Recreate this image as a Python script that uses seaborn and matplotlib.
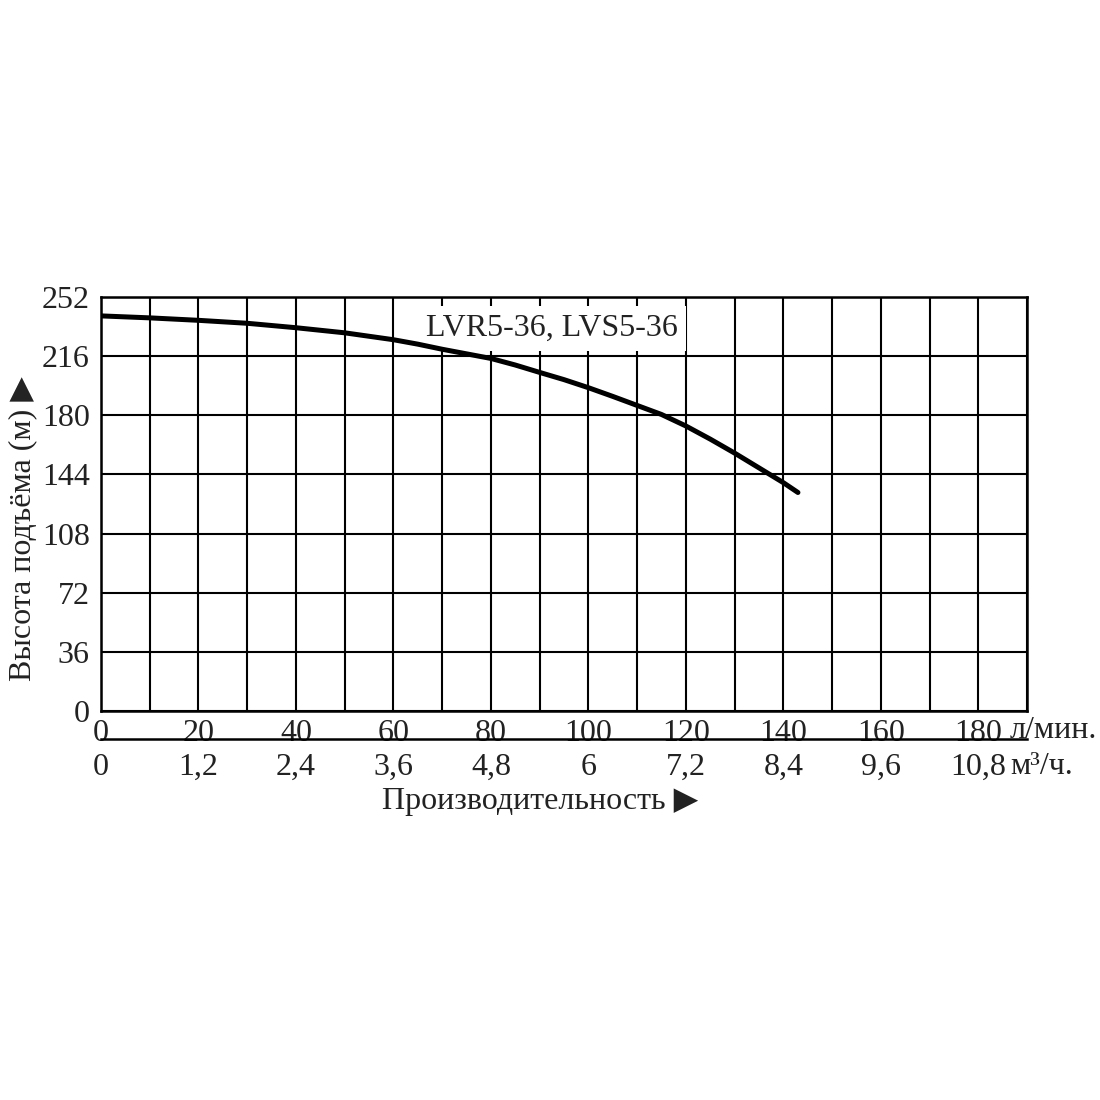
import numpy as np
import pandas as pd
import matplotlib
matplotlib.use("Agg")
import matplotlib.pyplot as plt
import seaborn as sns


# =========================================
# DATA
# =========================================

flow_lpm = [0, 10, 20, 30, 40, 50, 60, 65, 70, 75, 80, 85, 90, 95, 100,
            105, 110, 115, 120, 125, 130, 135, 140, 143]
head_m = [240.5, 239.3, 237.8, 236.0, 233.3, 230.2, 226.0, 223.3, 220.2, 217.4,
          214.6, 210.6, 206.1, 201.7, 196.8, 191.5, 186.0, 180.5, 173.5, 165.5,
          157.0, 148.0, 139.0, 133.0]

curve_label = "LVR5-36, LVS5-36"

y_ticks = [0, 36, 72, 108, 144, 180, 216, 252]
lpm_ticks = [0, 20, 40, 60, 80, 100, 120, 140, 160, 180]
m3h_labels = ["0", "1,2", "2,4", "3,6", "4,8", "6", "7,2", "8,4", "9,6", "10,8"]

df = pd.DataFrame({"flow": flow_lpm, "head": head_m})


# =========================================
# STYLE
# =========================================

sns.set_style("white")
plt.rcParams["font.family"] = ["Liberation Serif", "DejaVu Sans"]

FS = 23
TXT = "#222222"

fig = plt.figure(figsize=(11, 11), dpi=100)

left, right = 101 / 1100, 1027 / 1100
bottom, top = 1 - 711 / 1100, 1 - 297 / 1100
ax = fig.add_axes([left, bottom, right - left, top - bottom])


# =========================================
# CURVE
# =========================================

sns.lineplot(data=df, x="flow", y="head", ax=ax, color="black",
             linewidth=3.6, zorder=4)

ax.set_xlim(0, 190)
ax.set_ylim(0, 252)

ax.set_xticks(np.arange(0, 191, 10), minor=True)
ax.set_xticks(lpm_ticks)
ax.set_xticklabels([str(v) for v in lpm_ticks])
ax.set_yticks(y_ticks)
ax.set_yticklabels([str(v) for v in y_ticks])

ax.grid(True, which="both", color="black", linewidth=1.5)
ax.set_axisbelow(True)
for sp in ax.spines.values():
    sp.set_color("black")
    sp.set_linewidth(1.8)

ax.tick_params(axis="both", which="both", length=0, labelsize=FS,
               labelcolor=TXT)
ax.tick_params(axis="x", pad=6)
ax.tick_params(axis="y", pad=8)
ax.set_xlabel("")
ax.set_ylabel("Высота подъёма (м) ▶", fontsize=FS, color=TXT)
ax.yaxis.set_label_coords(-64 / 926, 0.44)

ax.text(92.6, 233, curve_label, fontsize=FS, ha="center", va="center",
        color=TXT, zorder=2,
        bbox=dict(boxstyle="square,pad=0.25", facecolor="white",
                  edgecolor="none"))

fig.text(1010 / 1100, 1 - 731 / 1100, "л/мин.", fontsize=FS, color=TXT,
         ha="left", va="center")


# =========================================
# SECOND SCALE (m3/h)
# =========================================

ax2_y = 1 - 739 / 1100
ax2 = fig.add_axes([left, ax2_y, right - left, 0.0001])
ax2.set_xlim(0, 190)
ax2.set_ylim(0, 1)
ax2.set_yticks([])
for name in ["top", "left", "right"]:
    ax2.spines[name].set_visible(False)
ax2.spines["bottom"].set_color("black")
ax2.spines["bottom"].set_linewidth(1.8)
ax2.set_xticks(lpm_ticks)
ax2.set_xticklabels(m3h_labels)
ax2.tick_params(axis="x", direction="inout", length=6, width=1.8,
                labelsize=FS, pad=7, labelcolor=TXT)
ax2.patch.set_alpha(0)

fig.text(1010 / 1100, 1 - 766 / 1100, "м³/ч.", fontsize=FS, color=TXT,
         ha="left", va="center")

fig.text(540 / 1100, 1 - 802 / 1100, "Производительность ▶", fontsize=FS,
         color=TXT, ha="center", va="center")

plt.savefig("out.png", dpi=100)
